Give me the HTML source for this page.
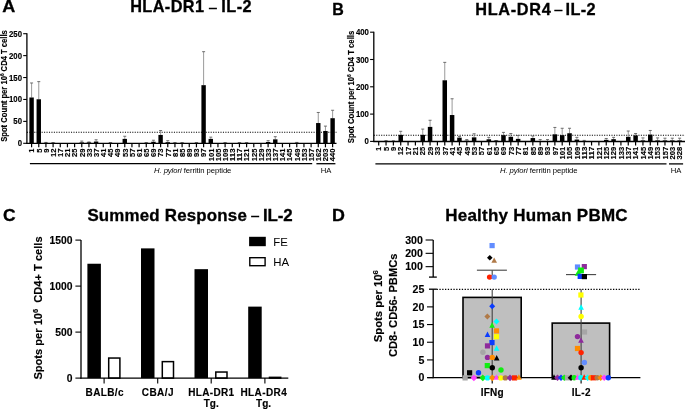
<!DOCTYPE html>
<html><head><meta charset="utf-8"><style>
html,body{margin:0;padding:0;background:#fff;overflow:hidden;}
svg{display:block;will-change:transform;}
text{font-family:"Liberation Sans", sans-serif;fill:#000;}
text[font-weight=bold]{stroke:#000;stroke-width:0.15px;}
.h{stroke:#000;stroke-width:0.3px !important;}
</style></head><body>
<svg width="685" height="410" viewBox="0 0 685 410">
<rect width="685" height="410" fill="#fff"/>
<text id="lA" textLength="13" lengthAdjust="spacingAndGlyphs" x="2.2" y="12" font-size="16.5" font-weight="bold" class="h">A</text>
<text id="tA" textLength="73.8" x="130.2" y="12.3" font-size="16.3" font-weight="bold" class="h">HLA-DR1</text>
<text id="tAd" x="209.1" y="11.7" font-size="14" class="h">–</text>
<text id="tAi" textLength="30.4" x="221.2" y="12.3" font-size="16.3" font-weight="bold" class="h">IL-2</text>
<line x1="26.9" y1="132.3" x2="336.5" y2="132.3" stroke="#000" stroke-width="1.1" stroke-dasharray="1.1 1.35"/>
<line x1="31.6" y1="97.5" x2="31.6" y2="82.97" stroke="#808080" stroke-width="0.8"/>
<line x1="30.1" y1="82.97" x2="33.1" y2="82.97" stroke="#606060" stroke-width="0.9"/>
<rect x="29.4" y="97.5" width="4.4" height="45.8" fill="#000"/>
<line x1="31.6" y1="143.3" x2="31.6" y2="147.3" stroke="#000" stroke-width="1.2"/>
<text id="Ax1" transform="translate(34.35,148.5) rotate(-90)" text-anchor="end" font-size="8" font-weight="bold" textLength="4.23" lengthAdjust="spacingAndGlyphs">1</text>
<line x1="38.77" y1="99.26" x2="38.77" y2="81.64" stroke="#808080" stroke-width="0.8"/>
<line x1="37.27" y1="81.64" x2="40.27" y2="81.64" stroke="#606060" stroke-width="0.9"/>
<rect x="36.57" y="99.26" width="4.4" height="44.04" fill="#000"/>
<line x1="38.77" y1="143.3" x2="38.77" y2="147.3" stroke="#000" stroke-width="1.2"/>
<text id="Ax5" transform="translate(41.52,148.5) rotate(-90)" text-anchor="end" font-size="8" font-weight="bold" textLength="4.23" lengthAdjust="spacingAndGlyphs">5</text>
<line x1="45.93" y1="142.86" x2="45.93" y2="142.42" stroke="#808080" stroke-width="0.8"/>
<line x1="44.43" y1="142.42" x2="47.43" y2="142.42" stroke="#606060" stroke-width="0.9"/>
<rect x="43.73" y="142.86" width="4.4" height="0.44" fill="#000"/>
<line x1="45.93" y1="143.3" x2="45.93" y2="147.3" stroke="#000" stroke-width="1.2"/>
<text id="Ax9" transform="translate(48.68,148.5) rotate(-90)" text-anchor="end" font-size="8" font-weight="bold" textLength="4.23" lengthAdjust="spacingAndGlyphs">9</text>
<line x1="53.1" y1="142.86" x2="53.1" y2="142.64" stroke="#808080" stroke-width="0.8"/>
<line x1="51.6" y1="142.64" x2="54.6" y2="142.64" stroke="#606060" stroke-width="0.9"/>
<rect x="50.9" y="142.86" width="4.4" height="0.44" fill="#000"/>
<line x1="53.1" y1="143.3" x2="53.1" y2="147.3" stroke="#000" stroke-width="1.2"/>
<text id="Ax12" transform="translate(55.85,148.5) rotate(-90)" text-anchor="end" font-size="8" font-weight="bold" textLength="8.46" lengthAdjust="spacingAndGlyphs">12</text>
<line x1="60.27" y1="143.3" x2="60.27" y2="147.3" stroke="#000" stroke-width="1.2"/>
<text id="Ax17" transform="translate(63.02,148.5) rotate(-90)" text-anchor="end" font-size="8" font-weight="bold" textLength="8.46" lengthAdjust="spacingAndGlyphs">17</text>
<line x1="67.44" y1="143.3" x2="67.44" y2="147.3" stroke="#000" stroke-width="1.2"/>
<text id="Ax21" transform="translate(70.19,148.5) rotate(-90)" text-anchor="end" font-size="8" font-weight="bold" textLength="8.46" lengthAdjust="spacingAndGlyphs">21</text>
<line x1="74.6" y1="143.3" x2="74.6" y2="147.3" stroke="#000" stroke-width="1.2"/>
<text id="Ax25" transform="translate(77.35,148.5) rotate(-90)" text-anchor="end" font-size="8" font-weight="bold" textLength="8.46" lengthAdjust="spacingAndGlyphs">25</text>
<line x1="81.77" y1="142.42" x2="81.77" y2="141.1" stroke="#808080" stroke-width="0.8"/>
<line x1="80.27" y1="141.1" x2="83.27" y2="141.1" stroke="#606060" stroke-width="0.9"/>
<rect x="79.57" y="142.42" width="4.4" height="0.88" fill="#000"/>
<line x1="81.77" y1="143.3" x2="81.77" y2="147.3" stroke="#000" stroke-width="1.2"/>
<text id="Ax29" transform="translate(84.52,148.5) rotate(-90)" text-anchor="end" font-size="8" font-weight="bold" textLength="8.46" lengthAdjust="spacingAndGlyphs">29</text>
<line x1="88.94" y1="142.42" x2="88.94" y2="141.98" stroke="#808080" stroke-width="0.8"/>
<line x1="87.44" y1="141.98" x2="90.44" y2="141.98" stroke="#606060" stroke-width="0.9"/>
<rect x="86.74" y="142.42" width="4.4" height="0.88" fill="#000"/>
<line x1="88.94" y1="143.3" x2="88.94" y2="147.3" stroke="#000" stroke-width="1.2"/>
<text id="Ax33" transform="translate(91.69,148.5) rotate(-90)" text-anchor="end" font-size="8" font-weight="bold" textLength="8.46" lengthAdjust="spacingAndGlyphs">33</text>
<line x1="96.1" y1="141.54" x2="96.1" y2="139.78" stroke="#808080" stroke-width="0.8"/>
<line x1="94.6" y1="139.78" x2="97.6" y2="139.78" stroke="#606060" stroke-width="0.9"/>
<rect x="93.9" y="141.54" width="4.4" height="1.76" fill="#000"/>
<line x1="96.1" y1="143.3" x2="96.1" y2="147.3" stroke="#000" stroke-width="1.2"/>
<text id="Ax37" transform="translate(98.85,148.5) rotate(-90)" text-anchor="end" font-size="8" font-weight="bold" textLength="8.46" lengthAdjust="spacingAndGlyphs">37</text>
<line x1="103.27" y1="143.3" x2="103.27" y2="147.3" stroke="#000" stroke-width="1.2"/>
<text id="Ax41" transform="translate(106.02,148.5) rotate(-90)" text-anchor="end" font-size="8" font-weight="bold" textLength="8.46" lengthAdjust="spacingAndGlyphs">41</text>
<line x1="110.44" y1="142.86" x2="110.44" y2="142.64" stroke="#808080" stroke-width="0.8"/>
<line x1="108.94" y1="142.64" x2="111.94" y2="142.64" stroke="#606060" stroke-width="0.9"/>
<rect x="108.24" y="142.86" width="4.4" height="0.44" fill="#000"/>
<line x1="110.44" y1="143.3" x2="110.44" y2="147.3" stroke="#000" stroke-width="1.2"/>
<text id="Ax45" transform="translate(113.19,148.5) rotate(-90)" text-anchor="end" font-size="8" font-weight="bold" textLength="8.46" lengthAdjust="spacingAndGlyphs">45</text>
<line x1="117.6" y1="143.3" x2="117.6" y2="147.3" stroke="#000" stroke-width="1.2"/>
<text id="Ax49" transform="translate(120.35,148.5) rotate(-90)" text-anchor="end" font-size="8" font-weight="bold" textLength="8.46" lengthAdjust="spacingAndGlyphs">49</text>
<line x1="124.77" y1="138.9" x2="124.77" y2="136.25" stroke="#808080" stroke-width="0.8"/>
<line x1="123.27" y1="136.25" x2="126.27" y2="136.25" stroke="#606060" stroke-width="0.9"/>
<rect x="122.57" y="138.9" width="4.4" height="4.4" fill="#000"/>
<line x1="124.77" y1="143.3" x2="124.77" y2="147.3" stroke="#000" stroke-width="1.2"/>
<text id="Ax53" transform="translate(127.52,148.5) rotate(-90)" text-anchor="end" font-size="8" font-weight="bold" textLength="8.46" lengthAdjust="spacingAndGlyphs">53</text>
<line x1="131.94" y1="143.3" x2="131.94" y2="147.3" stroke="#000" stroke-width="1.2"/>
<text id="Ax57" transform="translate(134.69,148.5) rotate(-90)" text-anchor="end" font-size="8" font-weight="bold" textLength="8.46" lengthAdjust="spacingAndGlyphs">57</text>
<line x1="139.1" y1="143.3" x2="139.1" y2="147.3" stroke="#000" stroke-width="1.2"/>
<text id="Ax61" transform="translate(141.85,148.5) rotate(-90)" text-anchor="end" font-size="8" font-weight="bold" textLength="8.46" lengthAdjust="spacingAndGlyphs">61</text>
<line x1="146.27" y1="142.86" x2="146.27" y2="142.64" stroke="#808080" stroke-width="0.8"/>
<line x1="144.77" y1="142.64" x2="147.77" y2="142.64" stroke="#606060" stroke-width="0.9"/>
<rect x="144.07" y="142.86" width="4.4" height="0.44" fill="#000"/>
<line x1="146.27" y1="143.3" x2="146.27" y2="147.3" stroke="#000" stroke-width="1.2"/>
<text id="Ax65" transform="translate(149.02,148.5) rotate(-90)" text-anchor="end" font-size="8" font-weight="bold" textLength="8.46" lengthAdjust="spacingAndGlyphs">65</text>
<line x1="153.44" y1="141.76" x2="153.44" y2="140.22" stroke="#808080" stroke-width="0.8"/>
<line x1="151.94" y1="140.22" x2="154.94" y2="140.22" stroke="#606060" stroke-width="0.9"/>
<rect x="151.24" y="141.76" width="4.4" height="1.54" fill="#000"/>
<line x1="153.44" y1="143.3" x2="153.44" y2="147.3" stroke="#000" stroke-width="1.2"/>
<text id="Ax69" transform="translate(156.19,148.5) rotate(-90)" text-anchor="end" font-size="8" font-weight="bold" textLength="8.46" lengthAdjust="spacingAndGlyphs">69</text>
<line x1="160.61" y1="134.93" x2="160.61" y2="130.53" stroke="#808080" stroke-width="0.8"/>
<line x1="159.11" y1="130.53" x2="162.11" y2="130.53" stroke="#606060" stroke-width="0.9"/>
<rect x="158.41" y="134.93" width="4.4" height="8.37" fill="#000"/>
<line x1="160.61" y1="143.3" x2="160.61" y2="147.3" stroke="#000" stroke-width="1.2"/>
<text id="Ax73" transform="translate(163.36,148.5) rotate(-90)" text-anchor="end" font-size="8" font-weight="bold" textLength="8.46" lengthAdjust="spacingAndGlyphs">73</text>
<line x1="167.77" y1="142.2" x2="167.77" y2="140.66" stroke="#808080" stroke-width="0.8"/>
<line x1="166.27" y1="140.66" x2="169.27" y2="140.66" stroke="#606060" stroke-width="0.9"/>
<rect x="165.57" y="142.2" width="4.4" height="1.1" fill="#000"/>
<line x1="167.77" y1="143.3" x2="167.77" y2="147.3" stroke="#000" stroke-width="1.2"/>
<text id="Ax77" transform="translate(170.52,148.5) rotate(-90)" text-anchor="end" font-size="8" font-weight="bold" textLength="8.46" lengthAdjust="spacingAndGlyphs">77</text>
<line x1="174.94" y1="142.86" x2="174.94" y2="142.64" stroke="#808080" stroke-width="0.8"/>
<line x1="173.44" y1="142.64" x2="176.44" y2="142.64" stroke="#606060" stroke-width="0.9"/>
<rect x="172.74" y="142.86" width="4.4" height="0.44" fill="#000"/>
<line x1="174.94" y1="143.3" x2="174.94" y2="147.3" stroke="#000" stroke-width="1.2"/>
<text id="Ax81" transform="translate(177.69,148.5) rotate(-90)" text-anchor="end" font-size="8" font-weight="bold" textLength="8.46" lengthAdjust="spacingAndGlyphs">81</text>
<line x1="182.11" y1="142.86" x2="182.11" y2="142.64" stroke="#808080" stroke-width="0.8"/>
<line x1="180.61" y1="142.64" x2="183.61" y2="142.64" stroke="#606060" stroke-width="0.9"/>
<rect x="179.91" y="142.86" width="4.4" height="0.44" fill="#000"/>
<line x1="182.11" y1="143.3" x2="182.11" y2="147.3" stroke="#000" stroke-width="1.2"/>
<text id="Ax85" transform="translate(184.86,148.5) rotate(-90)" text-anchor="end" font-size="8" font-weight="bold" textLength="8.46" lengthAdjust="spacingAndGlyphs">85</text>
<line x1="189.27" y1="143.3" x2="189.27" y2="147.3" stroke="#000" stroke-width="1.2"/>
<text id="Ax89" transform="translate(192.02,148.5) rotate(-90)" text-anchor="end" font-size="8" font-weight="bold" textLength="8.46" lengthAdjust="spacingAndGlyphs">89</text>
<line x1="196.44" y1="142.86" x2="196.44" y2="142.64" stroke="#808080" stroke-width="0.8"/>
<line x1="194.94" y1="142.64" x2="197.94" y2="142.64" stroke="#606060" stroke-width="0.9"/>
<rect x="194.24" y="142.86" width="4.4" height="0.44" fill="#000"/>
<line x1="196.44" y1="143.3" x2="196.44" y2="147.3" stroke="#000" stroke-width="1.2"/>
<text id="Ax93" transform="translate(199.19,148.5) rotate(-90)" text-anchor="end" font-size="8" font-weight="bold" textLength="8.46" lengthAdjust="spacingAndGlyphs">93</text>
<line x1="203.61" y1="85.17" x2="203.61" y2="51.7" stroke="#808080" stroke-width="0.8"/>
<line x1="202.11" y1="51.7" x2="205.11" y2="51.7" stroke="#606060" stroke-width="0.9"/>
<rect x="201.41" y="85.17" width="4.4" height="58.13" fill="#000"/>
<line x1="203.61" y1="143.3" x2="203.61" y2="147.3" stroke="#000" stroke-width="1.2"/>
<text id="Ax97" transform="translate(206.36,148.5) rotate(-90)" text-anchor="end" font-size="8" font-weight="bold" textLength="8.46" lengthAdjust="spacingAndGlyphs">97</text>
<line x1="210.77" y1="138.9" x2="210.77" y2="137.13" stroke="#808080" stroke-width="0.8"/>
<line x1="209.27" y1="137.13" x2="212.27" y2="137.13" stroke="#606060" stroke-width="0.9"/>
<rect x="208.57" y="138.9" width="4.4" height="4.4" fill="#000"/>
<line x1="210.77" y1="143.3" x2="210.77" y2="147.3" stroke="#000" stroke-width="1.2"/>
<text id="Ax101" transform="translate(213.52,148.5) rotate(-90)" text-anchor="end" font-size="8" font-weight="bold" textLength="12.69" lengthAdjust="spacingAndGlyphs">101</text>
<line x1="217.94" y1="143.3" x2="217.94" y2="147.3" stroke="#000" stroke-width="1.2"/>
<text id="Ax105" transform="translate(220.69,148.5) rotate(-90)" text-anchor="end" font-size="8" font-weight="bold" textLength="12.69" lengthAdjust="spacingAndGlyphs">105</text>
<line x1="225.11" y1="142.86" x2="225.11" y2="142.64" stroke="#808080" stroke-width="0.8"/>
<line x1="223.61" y1="142.64" x2="226.61" y2="142.64" stroke="#606060" stroke-width="0.9"/>
<rect x="222.91" y="142.86" width="4.4" height="0.44" fill="#000"/>
<line x1="225.11" y1="143.3" x2="225.11" y2="147.3" stroke="#000" stroke-width="1.2"/>
<text id="Ax109" transform="translate(227.86,148.5) rotate(-90)" text-anchor="end" font-size="8" font-weight="bold" textLength="12.69" lengthAdjust="spacingAndGlyphs">109</text>
<line x1="232.28" y1="143.3" x2="232.28" y2="147.3" stroke="#000" stroke-width="1.2"/>
<text id="Ax113" transform="translate(235.03,148.5) rotate(-90)" text-anchor="end" font-size="8" font-weight="bold" textLength="12.69" lengthAdjust="spacingAndGlyphs">113</text>
<line x1="239.44" y1="142.86" x2="239.44" y2="142.64" stroke="#808080" stroke-width="0.8"/>
<line x1="237.94" y1="142.64" x2="240.94" y2="142.64" stroke="#606060" stroke-width="0.9"/>
<rect x="237.24" y="142.86" width="4.4" height="0.44" fill="#000"/>
<line x1="239.44" y1="143.3" x2="239.44" y2="147.3" stroke="#000" stroke-width="1.2"/>
<text id="Ax117" transform="translate(242.19,148.5) rotate(-90)" text-anchor="end" font-size="8" font-weight="bold" textLength="12.69" lengthAdjust="spacingAndGlyphs">117</text>
<line x1="246.61" y1="142.86" x2="246.61" y2="142.64" stroke="#808080" stroke-width="0.8"/>
<line x1="245.11" y1="142.64" x2="248.11" y2="142.64" stroke="#606060" stroke-width="0.9"/>
<rect x="244.41" y="142.86" width="4.4" height="0.44" fill="#000"/>
<line x1="246.61" y1="143.3" x2="246.61" y2="147.3" stroke="#000" stroke-width="1.2"/>
<text id="Ax121" transform="translate(249.36,148.5) rotate(-90)" text-anchor="end" font-size="8" font-weight="bold" textLength="12.69" lengthAdjust="spacingAndGlyphs">121</text>
<rect x="251.58" y="143.08" width="4.4" height="0.22" fill="#000"/>
<line x1="253.78" y1="143.3" x2="253.78" y2="147.3" stroke="#000" stroke-width="1.2"/>
<text id="Ax125" transform="translate(256.53,148.5) rotate(-90)" text-anchor="end" font-size="8" font-weight="bold" textLength="12.69" lengthAdjust="spacingAndGlyphs">125</text>
<line x1="260.94" y1="143.3" x2="260.94" y2="147.3" stroke="#000" stroke-width="1.2"/>
<text id="Ax129" transform="translate(263.69,148.5) rotate(-90)" text-anchor="end" font-size="8" font-weight="bold" textLength="12.69" lengthAdjust="spacingAndGlyphs">129</text>
<line x1="268.11" y1="141.98" x2="268.11" y2="140.66" stroke="#808080" stroke-width="0.8"/>
<line x1="266.61" y1="140.66" x2="269.61" y2="140.66" stroke="#606060" stroke-width="0.9"/>
<rect x="265.91" y="141.98" width="4.4" height="1.32" fill="#000"/>
<line x1="268.11" y1="143.3" x2="268.11" y2="147.3" stroke="#000" stroke-width="1.2"/>
<text id="Ax133" transform="translate(270.86,148.5) rotate(-90)" text-anchor="end" font-size="8" font-weight="bold" textLength="12.69" lengthAdjust="spacingAndGlyphs">133</text>
<line x1="275.28" y1="139.34" x2="275.28" y2="136.69" stroke="#808080" stroke-width="0.8"/>
<line x1="273.78" y1="136.69" x2="276.78" y2="136.69" stroke="#606060" stroke-width="0.9"/>
<rect x="273.08" y="139.34" width="4.4" height="3.96" fill="#000"/>
<line x1="275.28" y1="143.3" x2="275.28" y2="147.3" stroke="#000" stroke-width="1.2"/>
<text id="Ax137" transform="translate(278.03,148.5) rotate(-90)" text-anchor="end" font-size="8" font-weight="bold" textLength="12.69" lengthAdjust="spacingAndGlyphs">137</text>
<line x1="282.44" y1="143.3" x2="282.44" y2="147.3" stroke="#000" stroke-width="1.2"/>
<text id="Ax141" transform="translate(285.19,148.5) rotate(-90)" text-anchor="end" font-size="8" font-weight="bold" textLength="12.69" lengthAdjust="spacingAndGlyphs">141</text>
<line x1="289.61" y1="143.3" x2="289.61" y2="147.3" stroke="#000" stroke-width="1.2"/>
<text id="Ax145" transform="translate(292.36,148.5) rotate(-90)" text-anchor="end" font-size="8" font-weight="bold" textLength="12.69" lengthAdjust="spacingAndGlyphs">145</text>
<line x1="296.78" y1="142.86" x2="296.78" y2="142.42" stroke="#808080" stroke-width="0.8"/>
<line x1="295.28" y1="142.42" x2="298.28" y2="142.42" stroke="#606060" stroke-width="0.9"/>
<rect x="294.58" y="142.86" width="4.4" height="0.44" fill="#000"/>
<line x1="296.78" y1="143.3" x2="296.78" y2="147.3" stroke="#000" stroke-width="1.2"/>
<text id="Ax149" transform="translate(299.53,148.5) rotate(-90)" text-anchor="end" font-size="8" font-weight="bold" textLength="12.69" lengthAdjust="spacingAndGlyphs">149</text>
<line x1="303.95" y1="143.3" x2="303.95" y2="147.3" stroke="#000" stroke-width="1.2"/>
<text id="Ax153" transform="translate(306.7,148.5) rotate(-90)" text-anchor="end" font-size="8" font-weight="bold" textLength="12.69" lengthAdjust="spacingAndGlyphs">153</text>
<line x1="311.11" y1="143.3" x2="311.11" y2="147.3" stroke="#000" stroke-width="1.2"/>
<text id="Ax157" transform="translate(313.86,148.5) rotate(-90)" text-anchor="end" font-size="8" font-weight="bold" textLength="12.69" lengthAdjust="spacingAndGlyphs">157</text>
<line x1="318.28" y1="123.04" x2="318.28" y2="112.47" stroke="#808080" stroke-width="0.8"/>
<line x1="316.78" y1="112.47" x2="319.78" y2="112.47" stroke="#606060" stroke-width="0.9"/>
<rect x="316.08" y="123.04" width="4.4" height="20.26" fill="#000"/>
<line x1="318.28" y1="143.3" x2="318.28" y2="147.3" stroke="#000" stroke-width="1.2"/>
<text id="Ax162" transform="translate(321.03,148.5) rotate(-90)" text-anchor="end" font-size="8" font-weight="bold" textLength="12.69" lengthAdjust="spacingAndGlyphs">162</text>
<line x1="325.45" y1="130.97" x2="325.45" y2="126.12" stroke="#808080" stroke-width="0.8"/>
<line x1="323.95" y1="126.12" x2="326.95" y2="126.12" stroke="#606060" stroke-width="0.9"/>
<rect x="323.25" y="130.97" width="4.4" height="12.33" fill="#000"/>
<line x1="325.45" y1="143.3" x2="325.45" y2="147.3" stroke="#000" stroke-width="1.2"/>
<text id="Ax203" transform="translate(328.2,148.5) rotate(-90)" text-anchor="end" font-size="8" font-weight="bold" textLength="12.69" lengthAdjust="spacingAndGlyphs">203</text>
<line x1="332.61" y1="118.2" x2="332.61" y2="110.27" stroke="#808080" stroke-width="0.8"/>
<line x1="331.11" y1="110.27" x2="334.11" y2="110.27" stroke="#606060" stroke-width="0.9"/>
<rect x="330.41" y="118.2" width="4.4" height="25.1" fill="#000"/>
<line x1="332.61" y1="143.3" x2="332.61" y2="147.3" stroke="#000" stroke-width="1.2"/>
<text id="Ax440" transform="translate(335.36,148.5) rotate(-90)" text-anchor="end" font-size="8" font-weight="bold" textLength="12.69" lengthAdjust="spacingAndGlyphs">440</text>
<line x1="26.9" y1="33.2" x2="26.9" y2="143.9" stroke="#000" stroke-width="1.3"/>
<line x1="26.3" y1="143.3" x2="336.5" y2="143.3" stroke="#000" stroke-width="1.3"/>
<line x1="23.2" y1="143.3" x2="26.9" y2="143.3" stroke="#000" stroke-width="1.1"/>
<text id="Ay0" x="22" y="146.3" text-anchor="end" font-size="8.7" font-weight="bold" textLength="4.34" lengthAdjust="spacingAndGlyphs">0</text>
<line x1="23.2" y1="121.38" x2="26.9" y2="121.38" stroke="#000" stroke-width="1.1"/>
<text id="Ay50" x="22" y="124.38" text-anchor="end" font-size="8.7" font-weight="bold" textLength="8.68" lengthAdjust="spacingAndGlyphs">50</text>
<line x1="23.2" y1="99.46" x2="26.9" y2="99.46" stroke="#000" stroke-width="1.1"/>
<text id="Ay100" x="22" y="102.46" text-anchor="end" font-size="8.7" font-weight="bold" textLength="13.02" lengthAdjust="spacingAndGlyphs">100</text>
<line x1="23.2" y1="77.54" x2="26.9" y2="77.54" stroke="#000" stroke-width="1.1"/>
<text id="Ay150" x="22" y="80.54" text-anchor="end" font-size="8.7" font-weight="bold" textLength="13.02" lengthAdjust="spacingAndGlyphs">150</text>
<line x1="23.2" y1="55.62" x2="26.9" y2="55.62" stroke="#000" stroke-width="1.1"/>
<text id="Ay200" x="22" y="58.62" text-anchor="end" font-size="8.7" font-weight="bold" textLength="13.02" lengthAdjust="spacingAndGlyphs">200</text>
<line x1="23.2" y1="33.7" x2="26.9" y2="33.7" stroke="#000" stroke-width="1.1"/>
<text id="Ay250" x="22" y="36.7" text-anchor="end" font-size="8.7" font-weight="bold" textLength="13.02" lengthAdjust="spacingAndGlyphs">250</text>
<line x1="29.9" y1="163.7" x2="312.2" y2="163.7" stroke="#000" stroke-width="1.3"/>
<line x1="316.4" y1="163.7" x2="335.4" y2="163.7" stroke="#000" stroke-width="1.3"/>
<text id="Ahp" textLength="77.4" x="154" y="173.2" font-size="7.7"><tspan font-style="italic">H. pylori</tspan> ferritin peptide</text>
<text id="Aha" x="326" y="173.2" text-anchor="middle" font-size="7.7">HA</text>
<text id="Aylab" textLength="111.6" lengthAdjust="spacingAndGlyphs" transform="translate(6.6,86) rotate(-90)" text-anchor="middle" font-size="8.3" font-weight="bold">Spot Count per 10<tspan font-size="5" dy="-3">6</tspan><tspan dy="3"> CD4 T cells</tspan></text>
<text id="lB" x="332.3" y="14.6" font-size="16" font-weight="bold" class="h">B</text>
<text id="tB" textLength="75.4" x="475.3" y="14.5" font-size="16.3" font-weight="bold" class="h">HLA-DR4</text>
<text id="tBd" x="554.6" y="13.9" font-size="14" class="h">–</text>
<text id="tBi" textLength="30" x="565.6" y="14.5" font-size="16.3" font-weight="bold" class="h">IL-2</text>
<line x1="373.8" y1="135.3" x2="685" y2="135.3" stroke="#000" stroke-width="1.1" stroke-dasharray="1.1 1.35"/>
<line x1="378.7" y1="141.5" x2="378.7" y2="145.5" stroke="#000" stroke-width="1.2"/>
<text id="Bx1" transform="translate(381.45,146.7) rotate(-90)" text-anchor="end" font-size="8" font-weight="bold" textLength="4.23" lengthAdjust="spacingAndGlyphs">1</text>
<line x1="386.04" y1="140.95" x2="386.04" y2="140.67" stroke="#808080" stroke-width="0.8"/>
<line x1="384.54" y1="140.67" x2="387.54" y2="140.67" stroke="#606060" stroke-width="0.9"/>
<rect x="383.79" y="140.95" width="4.5" height="0.55" fill="#000"/>
<line x1="386.04" y1="141.5" x2="386.04" y2="145.5" stroke="#000" stroke-width="1.2"/>
<text id="Bx5" transform="translate(388.79,146.7) rotate(-90)" text-anchor="end" font-size="8" font-weight="bold" textLength="4.23" lengthAdjust="spacingAndGlyphs">5</text>
<line x1="393.38" y1="141.09" x2="393.38" y2="140.81" stroke="#808080" stroke-width="0.8"/>
<line x1="391.88" y1="140.81" x2="394.88" y2="140.81" stroke="#606060" stroke-width="0.9"/>
<rect x="391.13" y="141.09" width="4.5" height="0.41" fill="#000"/>
<line x1="393.38" y1="141.5" x2="393.38" y2="145.5" stroke="#000" stroke-width="1.2"/>
<text id="Bx9" transform="translate(396.13,146.7) rotate(-90)" text-anchor="end" font-size="8" font-weight="bold" textLength="4.23" lengthAdjust="spacingAndGlyphs">9</text>
<line x1="400.72" y1="134.88" x2="400.72" y2="131.3" stroke="#808080" stroke-width="0.8"/>
<line x1="399.22" y1="131.3" x2="402.22" y2="131.3" stroke="#606060" stroke-width="0.9"/>
<rect x="398.47" y="134.88" width="4.5" height="6.62" fill="#000"/>
<line x1="400.72" y1="141.5" x2="400.72" y2="145.5" stroke="#000" stroke-width="1.2"/>
<text id="Bx12" transform="translate(403.47,146.7) rotate(-90)" text-anchor="end" font-size="8" font-weight="bold" textLength="8.46" lengthAdjust="spacingAndGlyphs">12</text>
<line x1="408.06" y1="141.5" x2="408.06" y2="145.5" stroke="#000" stroke-width="1.2"/>
<text id="Bx17" transform="translate(410.81,146.7) rotate(-90)" text-anchor="end" font-size="8" font-weight="bold" textLength="8.46" lengthAdjust="spacingAndGlyphs">17</text>
<line x1="415.4" y1="141.5" x2="415.4" y2="145.5" stroke="#000" stroke-width="1.2"/>
<text id="Bx21" transform="translate(418.15,146.7) rotate(-90)" text-anchor="end" font-size="8" font-weight="bold" textLength="8.46" lengthAdjust="spacingAndGlyphs">21</text>
<line x1="422.74" y1="134.88" x2="422.74" y2="129.09" stroke="#808080" stroke-width="0.8"/>
<line x1="421.24" y1="129.09" x2="424.24" y2="129.09" stroke="#606060" stroke-width="0.9"/>
<rect x="420.49" y="134.88" width="4.5" height="6.62" fill="#000"/>
<line x1="422.74" y1="141.5" x2="422.74" y2="145.5" stroke="#000" stroke-width="1.2"/>
<text id="Bx25" transform="translate(425.49,146.7) rotate(-90)" text-anchor="end" font-size="8" font-weight="bold" textLength="8.46" lengthAdjust="spacingAndGlyphs">25</text>
<line x1="430.08" y1="126.89" x2="430.08" y2="120.27" stroke="#808080" stroke-width="0.8"/>
<line x1="428.58" y1="120.27" x2="431.58" y2="120.27" stroke="#606060" stroke-width="0.9"/>
<rect x="427.83" y="126.89" width="4.5" height="14.61" fill="#000"/>
<line x1="430.08" y1="141.5" x2="430.08" y2="145.5" stroke="#000" stroke-width="1.2"/>
<text id="Bx29" transform="translate(432.83,146.7) rotate(-90)" text-anchor="end" font-size="8" font-weight="bold" textLength="8.46" lengthAdjust="spacingAndGlyphs">29</text>
<line x1="437.42" y1="141.5" x2="437.42" y2="145.5" stroke="#000" stroke-width="1.2"/>
<text id="Bx33" transform="translate(440.17,146.7) rotate(-90)" text-anchor="end" font-size="8" font-weight="bold" textLength="8.46" lengthAdjust="spacingAndGlyphs">33</text>
<line x1="444.76" y1="80.29" x2="444.76" y2="62.37" stroke="#808080" stroke-width="0.8"/>
<line x1="443.26" y1="62.37" x2="446.26" y2="62.37" stroke="#606060" stroke-width="0.9"/>
<rect x="442.51" y="80.29" width="4.5" height="61.21" fill="#000"/>
<line x1="444.76" y1="141.5" x2="444.76" y2="145.5" stroke="#000" stroke-width="1.2"/>
<text id="Bx37" transform="translate(447.51,146.7) rotate(-90)" text-anchor="end" font-size="8" font-weight="bold" textLength="8.46" lengthAdjust="spacingAndGlyphs">37</text>
<line x1="452.1" y1="115.03" x2="452.1" y2="98.77" stroke="#808080" stroke-width="0.8"/>
<line x1="450.6" y1="98.77" x2="453.6" y2="98.77" stroke="#606060" stroke-width="0.9"/>
<rect x="449.85" y="115.03" width="4.5" height="26.47" fill="#000"/>
<line x1="452.1" y1="141.5" x2="452.1" y2="145.5" stroke="#000" stroke-width="1.2"/>
<text id="Bx41" transform="translate(454.85,146.7) rotate(-90)" text-anchor="end" font-size="8" font-weight="bold" textLength="8.46" lengthAdjust="spacingAndGlyphs">41</text>
<line x1="459.44" y1="137.64" x2="459.44" y2="136.54" stroke="#808080" stroke-width="0.8"/>
<line x1="457.94" y1="136.54" x2="460.94" y2="136.54" stroke="#606060" stroke-width="0.9"/>
<rect x="457.19" y="137.64" width="4.5" height="3.86" fill="#000"/>
<line x1="459.44" y1="141.5" x2="459.44" y2="145.5" stroke="#000" stroke-width="1.2"/>
<text id="Bx45" transform="translate(462.19,146.7) rotate(-90)" text-anchor="end" font-size="8" font-weight="bold" textLength="8.46" lengthAdjust="spacingAndGlyphs">45</text>
<line x1="466.78" y1="140.67" x2="466.78" y2="139.57" stroke="#808080" stroke-width="0.8"/>
<line x1="465.28" y1="139.57" x2="468.28" y2="139.57" stroke="#606060" stroke-width="0.9"/>
<rect x="464.53" y="140.67" width="4.5" height="0.83" fill="#000"/>
<line x1="466.78" y1="141.5" x2="466.78" y2="145.5" stroke="#000" stroke-width="1.2"/>
<text id="Bx49" transform="translate(469.53,146.7) rotate(-90)" text-anchor="end" font-size="8" font-weight="bold" textLength="8.46" lengthAdjust="spacingAndGlyphs">49</text>
<line x1="474.12" y1="137.36" x2="474.12" y2="133.78" stroke="#808080" stroke-width="0.8"/>
<line x1="472.62" y1="133.78" x2="475.62" y2="133.78" stroke="#606060" stroke-width="0.9"/>
<rect x="471.87" y="137.36" width="4.5" height="4.14" fill="#000"/>
<line x1="474.12" y1="141.5" x2="474.12" y2="145.5" stroke="#000" stroke-width="1.2"/>
<text id="Bx53" transform="translate(476.87,146.7) rotate(-90)" text-anchor="end" font-size="8" font-weight="bold" textLength="8.46" lengthAdjust="spacingAndGlyphs">53</text>
<line x1="481.46" y1="141.5" x2="481.46" y2="145.5" stroke="#000" stroke-width="1.2"/>
<text id="Bx57" transform="translate(484.21,146.7) rotate(-90)" text-anchor="end" font-size="8" font-weight="bold" textLength="8.46" lengthAdjust="spacingAndGlyphs">57</text>
<line x1="488.8" y1="139.29" x2="488.8" y2="137.36" stroke="#808080" stroke-width="0.8"/>
<line x1="487.3" y1="137.36" x2="490.3" y2="137.36" stroke="#606060" stroke-width="0.9"/>
<rect x="486.55" y="139.29" width="4.5" height="2.21" fill="#000"/>
<line x1="488.8" y1="141.5" x2="488.8" y2="145.5" stroke="#000" stroke-width="1.2"/>
<text id="Bx61" transform="translate(491.55,146.7) rotate(-90)" text-anchor="end" font-size="8" font-weight="bold" textLength="8.46" lengthAdjust="spacingAndGlyphs">61</text>
<line x1="496.14" y1="140.67" x2="496.14" y2="140.54" stroke="#808080" stroke-width="0.8"/>
<line x1="494.64" y1="140.54" x2="497.64" y2="140.54" stroke="#606060" stroke-width="0.9"/>
<rect x="493.89" y="140.67" width="4.5" height="0.83" fill="#000"/>
<line x1="496.14" y1="141.5" x2="496.14" y2="145.5" stroke="#000" stroke-width="1.2"/>
<text id="Bx65" transform="translate(498.89,146.7) rotate(-90)" text-anchor="end" font-size="8" font-weight="bold" textLength="8.46" lengthAdjust="spacingAndGlyphs">65</text>
<line x1="503.48" y1="135.16" x2="503.48" y2="132.4" stroke="#808080" stroke-width="0.8"/>
<line x1="501.98" y1="132.4" x2="504.98" y2="132.4" stroke="#606060" stroke-width="0.9"/>
<rect x="501.23" y="135.16" width="4.5" height="6.34" fill="#000"/>
<line x1="503.48" y1="141.5" x2="503.48" y2="145.5" stroke="#000" stroke-width="1.2"/>
<text id="Bx69" transform="translate(506.23,146.7) rotate(-90)" text-anchor="end" font-size="8" font-weight="bold" textLength="8.46" lengthAdjust="spacingAndGlyphs">69</text>
<line x1="510.82" y1="136.81" x2="510.82" y2="133.5" stroke="#808080" stroke-width="0.8"/>
<line x1="509.32" y1="133.5" x2="512.32" y2="133.5" stroke="#606060" stroke-width="0.9"/>
<rect x="508.57" y="136.81" width="4.5" height="4.69" fill="#000"/>
<line x1="510.82" y1="141.5" x2="510.82" y2="145.5" stroke="#000" stroke-width="1.2"/>
<text id="Bx73" transform="translate(513.57,146.7) rotate(-90)" text-anchor="end" font-size="8" font-weight="bold" textLength="8.46" lengthAdjust="spacingAndGlyphs">73</text>
<line x1="518.16" y1="138.88" x2="518.16" y2="135.43" stroke="#808080" stroke-width="0.8"/>
<line x1="516.66" y1="135.43" x2="519.66" y2="135.43" stroke="#606060" stroke-width="0.9"/>
<rect x="515.91" y="138.88" width="4.5" height="2.62" fill="#000"/>
<line x1="518.16" y1="141.5" x2="518.16" y2="145.5" stroke="#000" stroke-width="1.2"/>
<text id="Bx77" transform="translate(520.91,146.7) rotate(-90)" text-anchor="end" font-size="8" font-weight="bold" textLength="8.46" lengthAdjust="spacingAndGlyphs">77</text>
<line x1="525.5" y1="141.5" x2="525.5" y2="145.5" stroke="#000" stroke-width="1.2"/>
<text id="Bx81" transform="translate(528.25,146.7) rotate(-90)" text-anchor="end" font-size="8" font-weight="bold" textLength="8.46" lengthAdjust="spacingAndGlyphs">81</text>
<line x1="532.84" y1="138.05" x2="532.84" y2="135.99" stroke="#808080" stroke-width="0.8"/>
<line x1="531.34" y1="135.99" x2="534.34" y2="135.99" stroke="#606060" stroke-width="0.9"/>
<rect x="530.59" y="138.05" width="4.5" height="3.45" fill="#000"/>
<line x1="532.84" y1="141.5" x2="532.84" y2="145.5" stroke="#000" stroke-width="1.2"/>
<text id="Bx85" transform="translate(535.59,146.7) rotate(-90)" text-anchor="end" font-size="8" font-weight="bold" textLength="8.46" lengthAdjust="spacingAndGlyphs">85</text>
<line x1="540.18" y1="141.22" x2="540.18" y2="139.57" stroke="#808080" stroke-width="0.8"/>
<line x1="538.68" y1="139.57" x2="541.68" y2="139.57" stroke="#606060" stroke-width="0.9"/>
<rect x="537.93" y="141.22" width="4.5" height="0.28" fill="#000"/>
<line x1="540.18" y1="141.5" x2="540.18" y2="145.5" stroke="#000" stroke-width="1.2"/>
<text id="Bx89" transform="translate(542.93,146.7) rotate(-90)" text-anchor="end" font-size="8" font-weight="bold" textLength="8.46" lengthAdjust="spacingAndGlyphs">89</text>
<line x1="547.52" y1="141.22" x2="547.52" y2="139.57" stroke="#808080" stroke-width="0.8"/>
<line x1="546.02" y1="139.57" x2="549.02" y2="139.57" stroke="#606060" stroke-width="0.9"/>
<rect x="545.27" y="141.22" width="4.5" height="0.28" fill="#000"/>
<line x1="547.52" y1="141.5" x2="547.52" y2="145.5" stroke="#000" stroke-width="1.2"/>
<text id="Bx93" transform="translate(550.27,146.7) rotate(-90)" text-anchor="end" font-size="8" font-weight="bold" textLength="8.46" lengthAdjust="spacingAndGlyphs">93</text>
<line x1="554.86" y1="134.33" x2="554.86" y2="127.44" stroke="#808080" stroke-width="0.8"/>
<line x1="553.36" y1="127.44" x2="556.36" y2="127.44" stroke="#606060" stroke-width="0.9"/>
<rect x="552.61" y="134.33" width="4.5" height="7.17" fill="#000"/>
<line x1="554.86" y1="141.5" x2="554.86" y2="145.5" stroke="#000" stroke-width="1.2"/>
<text id="Bx97" transform="translate(557.61,146.7) rotate(-90)" text-anchor="end" font-size="8" font-weight="bold" textLength="8.46" lengthAdjust="spacingAndGlyphs">97</text>
<line x1="562.2" y1="135.16" x2="562.2" y2="128.27" stroke="#808080" stroke-width="0.8"/>
<line x1="560.7" y1="128.27" x2="563.7" y2="128.27" stroke="#606060" stroke-width="0.9"/>
<rect x="559.95" y="135.16" width="4.5" height="6.34" fill="#000"/>
<line x1="562.2" y1="141.5" x2="562.2" y2="145.5" stroke="#000" stroke-width="1.2"/>
<text id="Bx101" transform="translate(564.95,146.7) rotate(-90)" text-anchor="end" font-size="8" font-weight="bold" textLength="12.69" lengthAdjust="spacingAndGlyphs">101</text>
<line x1="569.54" y1="133.23" x2="569.54" y2="128.27" stroke="#808080" stroke-width="0.8"/>
<line x1="568.04" y1="128.27" x2="571.04" y2="128.27" stroke="#606060" stroke-width="0.9"/>
<rect x="567.29" y="133.23" width="4.5" height="8.27" fill="#000"/>
<line x1="569.54" y1="141.5" x2="569.54" y2="145.5" stroke="#000" stroke-width="1.2"/>
<text id="Bx105" transform="translate(572.29,146.7) rotate(-90)" text-anchor="end" font-size="8" font-weight="bold" textLength="12.69" lengthAdjust="spacingAndGlyphs">105</text>
<line x1="576.88" y1="139.57" x2="576.88" y2="137.36" stroke="#808080" stroke-width="0.8"/>
<line x1="575.38" y1="137.36" x2="578.38" y2="137.36" stroke="#606060" stroke-width="0.9"/>
<rect x="574.63" y="139.57" width="4.5" height="1.93" fill="#000"/>
<line x1="576.88" y1="141.5" x2="576.88" y2="145.5" stroke="#000" stroke-width="1.2"/>
<text id="Bx109" transform="translate(579.63,146.7) rotate(-90)" text-anchor="end" font-size="8" font-weight="bold" textLength="12.69" lengthAdjust="spacingAndGlyphs">109</text>
<line x1="584.22" y1="140.95" x2="584.22" y2="140.4" stroke="#808080" stroke-width="0.8"/>
<line x1="582.72" y1="140.4" x2="585.72" y2="140.4" stroke="#606060" stroke-width="0.9"/>
<rect x="581.97" y="140.95" width="4.5" height="0.55" fill="#000"/>
<line x1="584.22" y1="141.5" x2="584.22" y2="145.5" stroke="#000" stroke-width="1.2"/>
<text id="Bx113" transform="translate(586.97,146.7) rotate(-90)" text-anchor="end" font-size="8" font-weight="bold" textLength="12.69" lengthAdjust="spacingAndGlyphs">113</text>
<line x1="591.56" y1="141.5" x2="591.56" y2="145.5" stroke="#000" stroke-width="1.2"/>
<text id="Bx117" transform="translate(594.31,146.7) rotate(-90)" text-anchor="end" font-size="8" font-weight="bold" textLength="12.69" lengthAdjust="spacingAndGlyphs">117</text>
<line x1="598.9" y1="141.5" x2="598.9" y2="145.5" stroke="#000" stroke-width="1.2"/>
<text id="Bx121" transform="translate(601.65,146.7) rotate(-90)" text-anchor="end" font-size="8" font-weight="bold" textLength="12.69" lengthAdjust="spacingAndGlyphs">121</text>
<line x1="606.24" y1="139.85" x2="606.24" y2="138.47" stroke="#808080" stroke-width="0.8"/>
<line x1="604.74" y1="138.47" x2="607.74" y2="138.47" stroke="#606060" stroke-width="0.9"/>
<rect x="603.99" y="139.85" width="4.5" height="1.65" fill="#000"/>
<line x1="606.24" y1="141.5" x2="606.24" y2="145.5" stroke="#000" stroke-width="1.2"/>
<text id="Bx125" transform="translate(608.99,146.7) rotate(-90)" text-anchor="end" font-size="8" font-weight="bold" textLength="12.69" lengthAdjust="spacingAndGlyphs">125</text>
<line x1="613.58" y1="139.16" x2="613.58" y2="137.36" stroke="#808080" stroke-width="0.8"/>
<line x1="612.08" y1="137.36" x2="615.08" y2="137.36" stroke="#606060" stroke-width="0.9"/>
<rect x="611.33" y="139.16" width="4.5" height="2.34" fill="#000"/>
<line x1="613.58" y1="141.5" x2="613.58" y2="145.5" stroke="#000" stroke-width="1.2"/>
<text id="Bx129" transform="translate(616.33,146.7) rotate(-90)" text-anchor="end" font-size="8" font-weight="bold" textLength="12.69" lengthAdjust="spacingAndGlyphs">129</text>
<line x1="620.92" y1="141.5" x2="620.92" y2="145.5" stroke="#000" stroke-width="1.2"/>
<text id="Bx133" transform="translate(623.67,146.7) rotate(-90)" text-anchor="end" font-size="8" font-weight="bold" textLength="12.69" lengthAdjust="spacingAndGlyphs">133</text>
<line x1="628.26" y1="136.81" x2="628.26" y2="131.02" stroke="#808080" stroke-width="0.8"/>
<line x1="626.76" y1="131.02" x2="629.76" y2="131.02" stroke="#606060" stroke-width="0.9"/>
<rect x="626.01" y="136.81" width="4.5" height="4.69" fill="#000"/>
<line x1="628.26" y1="141.5" x2="628.26" y2="145.5" stroke="#000" stroke-width="1.2"/>
<text id="Bx137" transform="translate(631.01,146.7) rotate(-90)" text-anchor="end" font-size="8" font-weight="bold" textLength="12.69" lengthAdjust="spacingAndGlyphs">137</text>
<line x1="635.6" y1="135.43" x2="635.6" y2="133.5" stroke="#808080" stroke-width="0.8"/>
<line x1="634.1" y1="133.5" x2="637.1" y2="133.5" stroke="#606060" stroke-width="0.9"/>
<rect x="633.35" y="135.43" width="4.5" height="6.07" fill="#000"/>
<line x1="635.6" y1="141.5" x2="635.6" y2="145.5" stroke="#000" stroke-width="1.2"/>
<text id="Bx141" transform="translate(638.35,146.7) rotate(-90)" text-anchor="end" font-size="8" font-weight="bold" textLength="12.69" lengthAdjust="spacingAndGlyphs">141</text>
<line x1="642.94" y1="140.4" x2="642.94" y2="137.92" stroke="#808080" stroke-width="0.8"/>
<line x1="641.44" y1="137.92" x2="644.44" y2="137.92" stroke="#606060" stroke-width="0.9"/>
<rect x="640.69" y="140.4" width="4.5" height="1.1" fill="#000"/>
<line x1="642.94" y1="141.5" x2="642.94" y2="145.5" stroke="#000" stroke-width="1.2"/>
<text id="Bx145" transform="translate(645.69,146.7) rotate(-90)" text-anchor="end" font-size="8" font-weight="bold" textLength="12.69" lengthAdjust="spacingAndGlyphs">145</text>
<line x1="650.28" y1="134.61" x2="650.28" y2="130.47" stroke="#808080" stroke-width="0.8"/>
<line x1="648.78" y1="130.47" x2="651.78" y2="130.47" stroke="#606060" stroke-width="0.9"/>
<rect x="648.03" y="134.61" width="4.5" height="6.89" fill="#000"/>
<line x1="650.28" y1="141.5" x2="650.28" y2="145.5" stroke="#000" stroke-width="1.2"/>
<text id="Bx149" transform="translate(653.03,146.7) rotate(-90)" text-anchor="end" font-size="8" font-weight="bold" textLength="12.69" lengthAdjust="spacingAndGlyphs">149</text>
<line x1="657.62" y1="140.4" x2="657.62" y2="137.92" stroke="#808080" stroke-width="0.8"/>
<line x1="656.12" y1="137.92" x2="659.12" y2="137.92" stroke="#606060" stroke-width="0.9"/>
<rect x="655.37" y="140.4" width="4.5" height="1.1" fill="#000"/>
<line x1="657.62" y1="141.5" x2="657.62" y2="145.5" stroke="#000" stroke-width="1.2"/>
<text id="Bx153" transform="translate(660.37,146.7) rotate(-90)" text-anchor="end" font-size="8" font-weight="bold" textLength="12.69" lengthAdjust="spacingAndGlyphs">153</text>
<line x1="664.96" y1="140.4" x2="664.96" y2="138.19" stroke="#808080" stroke-width="0.8"/>
<line x1="663.46" y1="138.19" x2="666.46" y2="138.19" stroke="#606060" stroke-width="0.9"/>
<rect x="662.71" y="140.4" width="4.5" height="1.1" fill="#000"/>
<line x1="664.96" y1="141.5" x2="664.96" y2="145.5" stroke="#000" stroke-width="1.2"/>
<text id="Bx157" transform="translate(667.71,146.7) rotate(-90)" text-anchor="end" font-size="8" font-weight="bold" textLength="12.69" lengthAdjust="spacingAndGlyphs">157</text>
<line x1="672.3" y1="140.4" x2="672.3" y2="138.19" stroke="#808080" stroke-width="0.8"/>
<line x1="670.8" y1="138.19" x2="673.8" y2="138.19" stroke="#606060" stroke-width="0.9"/>
<rect x="670.05" y="140.4" width="4.5" height="1.1" fill="#000"/>
<line x1="672.3" y1="141.5" x2="672.3" y2="145.5" stroke="#000" stroke-width="1.2"/>
<text id="Bx203" transform="translate(675.05,146.7) rotate(-90)" text-anchor="end" font-size="8" font-weight="bold" textLength="12.69" lengthAdjust="spacingAndGlyphs">203</text>
<line x1="679.64" y1="140.4" x2="679.64" y2="138.19" stroke="#808080" stroke-width="0.8"/>
<line x1="678.14" y1="138.19" x2="681.14" y2="138.19" stroke="#606060" stroke-width="0.9"/>
<rect x="677.39" y="140.4" width="4.5" height="1.1" fill="#000"/>
<line x1="679.64" y1="141.5" x2="679.64" y2="145.5" stroke="#000" stroke-width="1.2"/>
<text id="Bx328" transform="translate(682.39,146.7) rotate(-90)" text-anchor="end" font-size="8" font-weight="bold" textLength="12.69" lengthAdjust="spacingAndGlyphs">328</text>
<line x1="373.8" y1="31.7" x2="373.8" y2="142.1" stroke="#000" stroke-width="1.3"/>
<line x1="373.2" y1="141.5" x2="685" y2="141.5" stroke="#000" stroke-width="1.3"/>
<line x1="370.1" y1="141.4" x2="373.8" y2="141.4" stroke="#000" stroke-width="1.1"/>
<text id="By0" x="368.9" y="144.4" text-anchor="end" font-size="8.7" font-weight="bold" textLength="4.34" lengthAdjust="spacingAndGlyphs">0</text>
<line x1="370.1" y1="114.1" x2="373.8" y2="114.1" stroke="#000" stroke-width="1.1"/>
<text id="By100" x="368.9" y="117.1" text-anchor="end" font-size="8.7" font-weight="bold" textLength="13.02" lengthAdjust="spacingAndGlyphs">100</text>
<line x1="370.1" y1="86.8" x2="373.8" y2="86.8" stroke="#000" stroke-width="1.1"/>
<text id="By200" x="368.9" y="89.8" text-anchor="end" font-size="8.7" font-weight="bold" textLength="13.02" lengthAdjust="spacingAndGlyphs">200</text>
<line x1="370.1" y1="59.5" x2="373.8" y2="59.5" stroke="#000" stroke-width="1.1"/>
<text id="By300" x="368.9" y="62.5" text-anchor="end" font-size="8.7" font-weight="bold" textLength="13.02" lengthAdjust="spacingAndGlyphs">300</text>
<line x1="370.1" y1="32.2" x2="373.8" y2="32.2" stroke="#000" stroke-width="1.1"/>
<text id="By400" x="368.9" y="35.2" text-anchor="end" font-size="8.7" font-weight="bold" textLength="13.02" lengthAdjust="spacingAndGlyphs">400</text>
<line x1="375.4" y1="163.9" x2="666.5" y2="163.9" stroke="#000" stroke-width="1.3"/>
<line x1="669" y1="163.9" x2="683.1" y2="163.9" stroke="#000" stroke-width="1.3"/>
<text id="Bhp" textLength="77.7" x="499.9" y="173.4" font-size="7.7"><tspan font-style="italic">H. pylori</tspan> ferritin peptide</text>
<text id="Bha" x="676" y="173.4" text-anchor="middle" font-size="7.7">HA</text>
<text id="Bylab" textLength="112.4" lengthAdjust="spacingAndGlyphs" transform="translate(354,87) rotate(-90)" text-anchor="middle" font-size="8.3" font-weight="bold">Spot Count per 10<tspan font-size="5" dy="-3">6</tspan><tspan dy="3"> CD4 T cells</tspan></text>
<text id="lC" textLength="12.6" lengthAdjust="spacingAndGlyphs" x="2.9" y="220.8" font-size="16" font-weight="bold" class="h">C</text>
<text id="tC" textLength="159.4" x="87.4" y="220.9" font-size="16.9" font-weight="bold" class="h">Summed Response</text>
<text id="tCd" x="251.2" y="220.3" font-size="14" class="h">–</text>
<text id="tCi" textLength="29.6" x="263" y="220.9" font-size="16.9" font-weight="bold" class="h">IL-2</text>
<rect x="87.4" y="263.74" width="13.5" height="114.36" fill="#000"/>
<rect x="108.7" y="358.04" width="11.2" height="20.06" fill="#fff" stroke="#000" stroke-width="1.5"/>
<line x1="104.1" y1="378.1" x2="104.1" y2="383.5" stroke="#000" stroke-width="1.1"/>
<text id="Cg0" textLength="37.9" x="104.5" y="396" text-anchor="middle" font-size="10" font-weight="bold">BALB/c</text>
<rect x="141" y="248.38" width="13.5" height="129.72" fill="#000"/>
<rect x="162.3" y="361.63" width="11.2" height="16.47" fill="#fff" stroke="#000" stroke-width="1.5"/>
<line x1="157.7" y1="378.1" x2="157.7" y2="383.5" stroke="#000" stroke-width="1.1"/>
<text id="Cg1" textLength="31.7" x="157.6" y="396" text-anchor="middle" font-size="10" font-weight="bold">CBA/J</text>
<rect x="194.5" y="269.17" width="13.5" height="108.93" fill="#000"/>
<rect x="215.8" y="372.03" width="11.2" height="6.07" fill="#fff" stroke="#000" stroke-width="1.5"/>
<line x1="211.2" y1="378.1" x2="211.2" y2="383.5" stroke="#000" stroke-width="1.1"/>
<text id="Cg2" textLength="45.8" x="211.2" y="396" text-anchor="middle" font-size="10" font-weight="bold">HLA-DR1</text>
<text id="Cg2b" x="211.2" y="407.4" text-anchor="middle" font-size="10" font-weight="bold">Tg.</text>
<rect x="248.2" y="306.62" width="13.5" height="71.48" fill="#000"/>
<rect x="269.5" y="377.36" width="11.2" height="0.74" fill="#fff" stroke="#000" stroke-width="1.5"/>
<line x1="264.9" y1="378.1" x2="264.9" y2="383.5" stroke="#000" stroke-width="1.1"/>
<text id="Cg3" textLength="46.3" x="263.6" y="396" text-anchor="middle" font-size="10" font-weight="bold">HLA-DR4</text>
<text id="Cg3b" x="263.6" y="407.4" text-anchor="middle" font-size="10" font-weight="bold">Tg.</text>
<line x1="81" y1="240.1" x2="81" y2="378.7" stroke="#000" stroke-width="1.3"/>
<line x1="80.4" y1="378.1" x2="288.3" y2="378.1" stroke="#000" stroke-width="1.3"/>
<line x1="75.4" y1="378.1" x2="81" y2="378.1" stroke="#000" stroke-width="1.1"/>
<text id="Cy0" x="72.4" y="381.9" text-anchor="end" font-size="10.6" font-weight="bold" textLength="5.75" lengthAdjust="spacingAndGlyphs">0</text>
<line x1="75.4" y1="332.1" x2="81" y2="332.1" stroke="#000" stroke-width="1.1"/>
<text id="Cy500" x="72.4" y="335.9" text-anchor="end" font-size="10.6" font-weight="bold" textLength="17.25" lengthAdjust="spacingAndGlyphs">500</text>
<line x1="75.4" y1="286.1" x2="81" y2="286.1" stroke="#000" stroke-width="1.1"/>
<text id="Cy1000" x="72.4" y="289.9" text-anchor="end" font-size="10.6" font-weight="bold" textLength="23" lengthAdjust="spacingAndGlyphs">1000</text>
<line x1="75.4" y1="240.1" x2="81" y2="240.1" stroke="#000" stroke-width="1.1"/>
<text id="Cy1500" x="72.4" y="243.9" text-anchor="end" font-size="10.6" font-weight="bold" textLength="23" lengthAdjust="spacingAndGlyphs">1500</text>
<text id="Cylab" transform="translate(42,308) rotate(-90)" text-anchor="middle" font-size="11.1" font-weight="bold">Spots per 10<tspan font-size="7.5" dy="-4.3">6</tspan><tspan dy="4.3" xml:space="preserve">  CD4+ T cells</tspan></text>
<rect x="249.1" y="236.8" width="16.7" height="9.4" fill="#000"/>
<rect x="249.8" y="257.7" width="15.3" height="8" fill="#fff" stroke="#000" stroke-width="1.4"/>
<text id="Cfe" x="273.2" y="245.8" font-size="11.4">FE</text>
<text id="Cha" x="273.2" y="266.2" font-size="11.4">HA</text>
<text id="lD" textLength="12.9" lengthAdjust="spacingAndGlyphs" x="331.9" y="220.9" font-size="16" font-weight="bold" class="h">D</text>
<text id="tD" textLength="182.4" x="445.2" y="220.8" font-size="17" font-weight="bold" class="h">Healthy Human PBMC</text>
<line x1="436.6" y1="289.3" x2="640" y2="289.3" stroke="#000" stroke-width="1.2" stroke-dasharray="1.3 1.5"/>
<rect x="463" y="297.4" width="58.2" height="80.2" fill="#bfbfbf" stroke="#000" stroke-width="1.6"/>
<rect x="552.2" y="323.1" width="57.4" height="54.5" fill="#bfbfbf" stroke="#000" stroke-width="1.6"/>
<line x1="492.2" y1="270.2" x2="492.2" y2="277.1" stroke="#444" stroke-width="1.1"/>
<line x1="492.2" y1="289.2" x2="492.2" y2="377.6" stroke="#444" stroke-width="1.1"/>
<line x1="476.9" y1="270.2" x2="506.9" y2="270.2" stroke="#444" stroke-width="1.1"/>
<line x1="581.1" y1="274.6" x2="581.1" y2="277.1" stroke="#444" stroke-width="1.1"/>
<line x1="581.1" y1="289.2" x2="581.1" y2="377.6" stroke="#444" stroke-width="1.1"/>
<line x1="566" y1="274.6" x2="596.1" y2="274.6" stroke="#444" stroke-width="1.1"/>
<line x1="433.2" y1="240" x2="433.2" y2="277.1" stroke="#000" stroke-width="1.3"/>
<line x1="429" y1="277.1" x2="436.8" y2="277.1" stroke="#000" stroke-width="1.3"/>
<line x1="433.2" y1="289.2" x2="433.2" y2="378.2" stroke="#000" stroke-width="1.3"/>
<line x1="429" y1="289.2" x2="436.8" y2="289.2" stroke="#000" stroke-width="1.3"/>
<line x1="427.4" y1="377.6" x2="640.4" y2="377.6" stroke="#000" stroke-width="1.3"/>
<line x1="425.6" y1="266.66" x2="433.2" y2="266.66" stroke="#000" stroke-width="1.1"/>
<text id="Du100" x="422.9" y="270.46" text-anchor="end" font-size="10.6" font-weight="bold">100</text>
<line x1="425.6" y1="253.33" x2="433.2" y2="253.33" stroke="#000" stroke-width="1.1"/>
<text id="Du200" x="422.9" y="257.13" text-anchor="end" font-size="10.6" font-weight="bold">200</text>
<line x1="425.6" y1="240" x2="433.2" y2="240" stroke="#000" stroke-width="1.1"/>
<text id="Du300" x="422.9" y="243.8" text-anchor="end" font-size="10.6" font-weight="bold">300</text>
<line x1="427" y1="377.6" x2="433.2" y2="377.6" stroke="#000" stroke-width="1.1"/>
<text id="Dy0" x="424.4" y="381.4" text-anchor="end" font-size="10.6" font-weight="bold">0</text>
<line x1="427" y1="359.92" x2="433.2" y2="359.92" stroke="#000" stroke-width="1.1"/>
<text id="Dy5" x="424.4" y="363.72" text-anchor="end" font-size="10.6" font-weight="bold">5</text>
<line x1="427" y1="342.24" x2="433.2" y2="342.24" stroke="#000" stroke-width="1.1"/>
<text id="Dy10" x="424.4" y="346.04" text-anchor="end" font-size="10.6" font-weight="bold">10</text>
<line x1="427" y1="324.56" x2="433.2" y2="324.56" stroke="#000" stroke-width="1.1"/>
<text id="Dy15" x="424.4" y="328.36" text-anchor="end" font-size="10.6" font-weight="bold">15</text>
<line x1="427" y1="306.88" x2="433.2" y2="306.88" stroke="#000" stroke-width="1.1"/>
<text id="Dy20" x="424.4" y="310.68" text-anchor="end" font-size="10.6" font-weight="bold">20</text>
<text id="Dy25" x="424.4" y="293" text-anchor="end" font-size="10.6" font-weight="bold">25</text>
<line x1="492.2" y1="377.6" x2="492.2" y2="383.5" stroke="#000" stroke-width="1.1"/>
<text id="Dx0" textLength="23" x="492.2" y="395.6" text-anchor="middle" font-size="10" font-weight="bold">IFNg</text>
<line x1="581.1" y1="377.6" x2="581.1" y2="383.5" stroke="#000" stroke-width="1.1"/>
<text id="Dx1" textLength="18.9" x="581.1" y="395.6" text-anchor="middle" font-size="10" font-weight="bold">IL-2</text>
<text id="Dyl1" transform="translate(382.2,306.2) rotate(-90)" text-anchor="middle" font-size="11.3" font-weight="bold">Spots per 10<tspan font-size="7.7" dy="-4.2">6</tspan></text>
<text id="Dyl2" textLength="103.4" lengthAdjust="spacingAndGlyphs" transform="translate(397,305.3) rotate(-90)" text-anchor="middle" font-size="11.5" font-weight="bold">CD8- CD56- PBMCs</text>
<rect x="489.5" y="243" width="5.2" height="5.2" fill="#628dff"/>
<polygon points="489.8,255 492.6,257.8 489.8,260.6 487,257.8" fill="#000"/>
<polygon points="494.2,257.46 497,262.86 491.4,262.86" fill="#b07a48"/>
<circle cx="489.6" cy="277.1" r="2.7" fill="#ff2200"/>
<circle cx="494.2" cy="277.1" r="2.7" fill="#628dff"/>
<polygon points="492.2,303.2 495.2,306.2 492.2,309.2 489.2,306.2" fill="#0a3cff"/>
<polygon points="487.4,313.4 490.4,316.4 487.4,319.4 484.4,316.4" fill="#b07a48"/>
<polygon points="496.5,318.4 499.5,321.4 496.5,324.4 493.5,321.4" fill="#00ffff"/>
<polygon points="492.1,322.26 494.9,327.66 489.3,327.66" fill="#11ee11"/>
<rect x="493.9" y="328.3" width="5.2" height="5.2" fill="#ff8c00"/>
<rect x="493.9" y="334.1" width="5.2" height="5.2" fill="#ffff00"/>
<polygon points="487.5,331.56 490.3,336.96 484.7,336.96" fill="#0a3cff"/>
<rect x="489.4" y="340" width="5.2" height="5.2" fill="#0a3cff"/>
<rect x="484.9" y="343.3" width="5.2" height="5.2" fill="#8e2a9c"/>
<polygon points="496.6,345.26 499.4,350.66 493.8,350.66" fill="#00ffff"/>
<circle cx="482.9" cy="352.2" r="2.7" fill="#a6a6a6"/>
<circle cx="487.5" cy="357.4" r="2.7" fill="#8e2a9c"/>
<circle cx="492.3" cy="357.4" r="2.7" fill="#ff8c00"/>
<polygon points="496.7,355.06 499.5,360.46 493.9,360.46" fill="#000"/>
<rect x="484.7" y="363" width="5.2" height="5.2" fill="#11ee11"/>
<circle cx="492.3" cy="367.7" r="2.7" fill="#000"/>
<circle cx="501" cy="370" r="2.7" fill="#11ee11"/>
<rect x="467" y="370.2" width="5.2" height="5.2" fill="#000"/>
<circle cx="478.5" cy="372.8" r="2.7" fill="#0a3cff"/>
<rect x="462.5" y="375.3" width="5.2" height="5.2" fill="#a6a6a6"/>
<polygon points="473.9,374.6 477.2,377.9 473.9,381.2 470.6,377.9" fill="#ff44ff"/>
<polygon points="482.8,374.6 486.1,377.9 482.8,381.2 479.5,377.9" fill="#11ee11"/>
<circle cx="487.5" cy="377.9" r="2.7" fill="#00ffff"/>
<polygon points="492.3,374.6 495.6,377.9 492.3,381.2 489,377.9" fill="#ff8c00"/>
<polygon points="496.4,374.36 499.2,379.76 493.6,379.76" fill="#ff44ff"/>
<circle cx="500.8" cy="377.9" r="2.7" fill="#ffff00"/>
<circle cx="505.3" cy="377.9" r="2.7" fill="#b07a48"/>
<polygon points="510,374.6 513.3,377.9 510,381.2 506.7,377.9" fill="#8e2a9c"/>
<rect x="511.9" y="375.3" width="5.2" height="5.2" fill="#ff2200"/>
<polygon points="518.9,374.36 521.7,379.76 516.1,379.76" fill="#ff8c00"/>
<rect x="574.9" y="264.4" width="5.2" height="5.2" fill="#628dff"/>
<rect x="581.7" y="264" width="5.2" height="5.2" fill="#8e2a9c"/>
<rect x="578.1" y="267.5" width="5.8" height="5.8" fill="#11ee11"/>
<polygon points="578.3,269.46 581.9,275.86 574.7,275.86" fill="#11ee11"/>
<rect x="577.6" y="273.8" width="5.2" height="5.2" fill="#0a3cff"/>
<rect x="581.8" y="274" width="5.2" height="5.2" fill="#000"/>
<rect x="578.3" y="292.4" width="5.2" height="5.2" fill="#ffff00"/>
<polygon points="581.1,304.36 583.9,309.76 578.3,309.76" fill="#00ffff"/>
<circle cx="581.1" cy="316.5" r="2.7" fill="#ffff00"/>
<rect x="581.9" y="329.4" width="5.2" height="5.2" fill="#a6a6a6"/>
<circle cx="577.5" cy="336.6" r="2.7" fill="#8e2a9c"/>
<polygon points="581,337.36 583.8,342.76 578.2,342.76" fill="#8e2a9c"/>
<rect x="574.9" y="345.9" width="5.2" height="5.2" fill="#ff8c00"/>
<circle cx="581.1" cy="352.6" r="2.7" fill="#ff2200"/>
<circle cx="584.4" cy="362.5" r="2.7" fill="#628dff"/>
<circle cx="581.1" cy="367.8" r="2.7" fill="#000"/>
<polygon points="554,374.36 556.8,379.76 551.2,379.76" fill="#000"/>
<polygon points="557.5,374.5 560.8,377.8 557.5,381.1 554.2,377.8" fill="#8e2a9c"/>
<polygon points="561,374.5 564.3,377.8 561,381.1 557.7,377.8" fill="#0a3cff"/>
<polygon points="564.3,374.5 567.6,377.8 564.3,381.1 561,377.8" fill="#11ee11"/>
<rect x="564.9" y="375.2" width="5.2" height="5.2" fill="#a6a6a6"/>
<polygon points="571,374.5 574.3,377.8 571,381.1 567.7,377.8" fill="#000"/>
<circle cx="574.2" cy="377.8" r="2.7" fill="#11ee11"/>
<polygon points="577.6,374.36 580.4,379.76 574.8,379.76" fill="#ff44ff"/>
<circle cx="580.9" cy="377.8" r="2.7" fill="#00ffff"/>
<polygon points="584.2,374.36 587,379.76 581.4,379.76" fill="#ff2200"/>
<polygon points="587.7,374.5 591,377.8 587.7,381.1 584.4,377.8" fill="#00ffff"/>
<circle cx="590.8" cy="377.8" r="2.7" fill="#ff8c00"/>
<rect x="590.9" y="375.2" width="5.2" height="5.2" fill="#ff2200"/>
<circle cx="597.2" cy="377.8" r="2.7" fill="#b07a48"/>
<polygon points="600.7,374.5 604,377.8 600.7,381.1 597.4,377.8" fill="#ff8c00"/>
<polygon points="604.2,374.5 607.5,377.8 604.2,381.1 600.9,377.8" fill="#ff44ff"/>
<circle cx="608.3" cy="377.8" r="2.7" fill="#0a3cff"/>
</svg>
</body></html>
